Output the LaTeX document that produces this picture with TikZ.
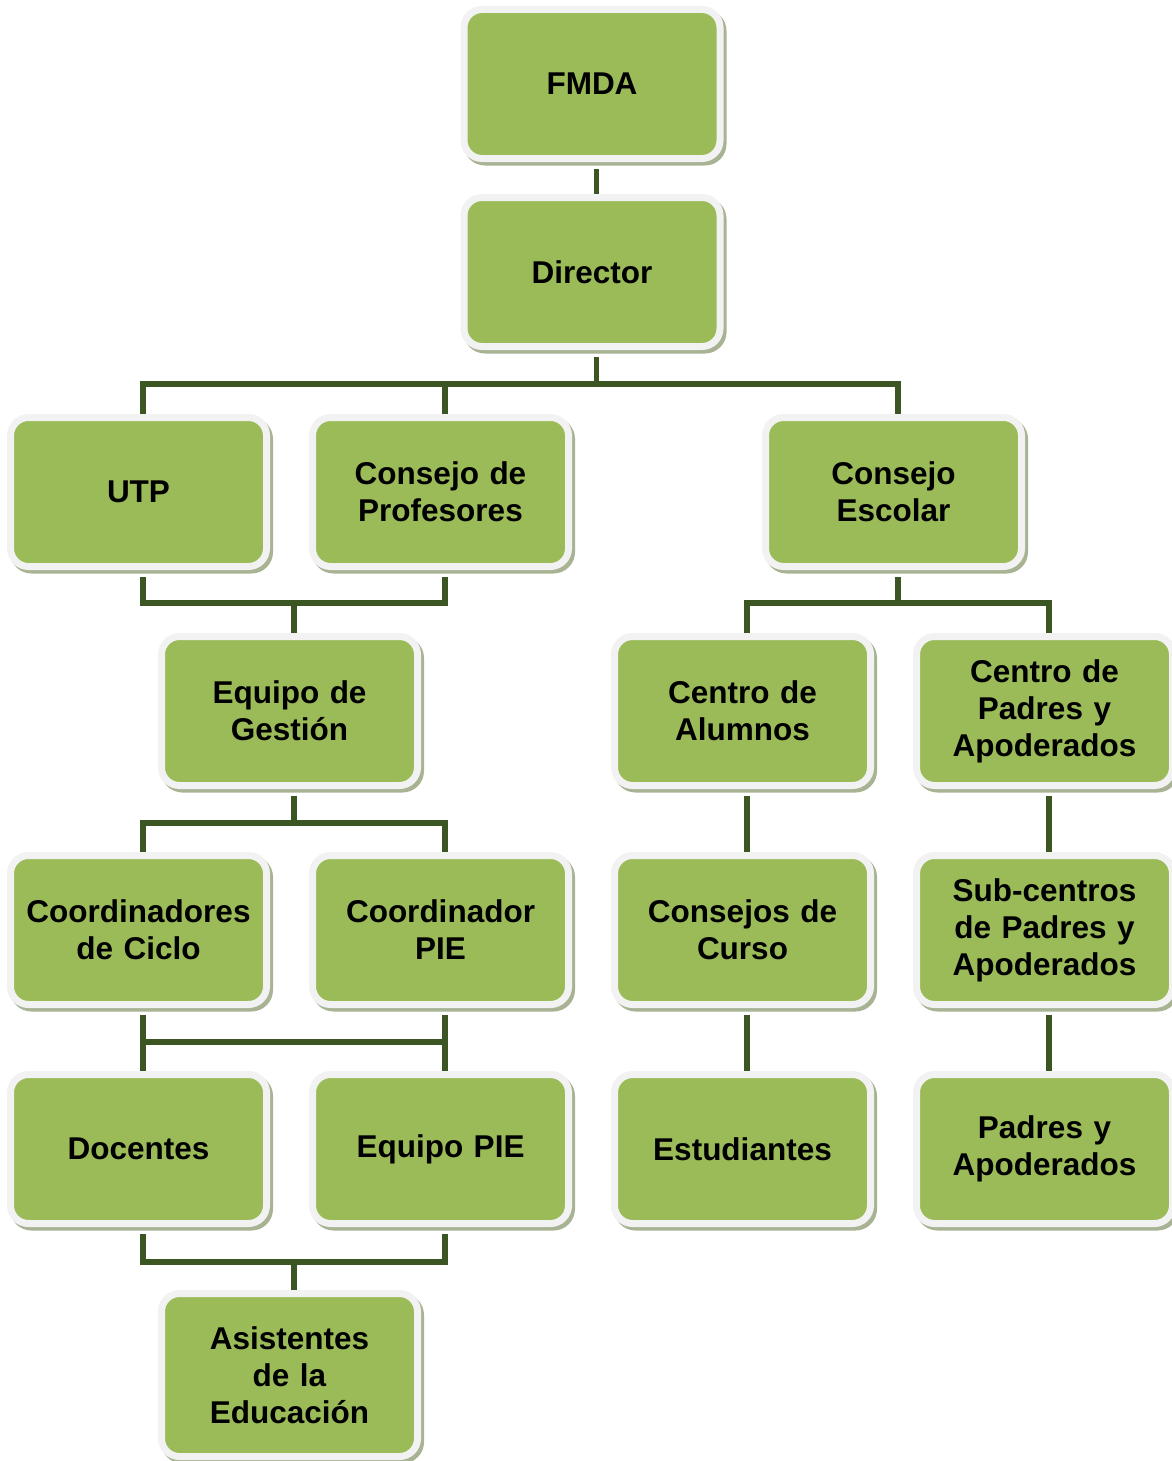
\documentclass[tikz,border=0pt]{standalone}
\usepackage{fontspec}
\setmainfont{Liberation Sans}
\definecolor{boxgreen}{HTML}{9BBB59}
\definecolor{boxrim}{HTML}{F2F2F2}
\definecolor{shadowc}{HTML}{A7B393}
\definecolor{connc}{HTML}{3B5623}
\begin{document}
\begin{tikzpicture}[x=1pt,y=-1pt,
  box/.style={rounded corners=18pt, fill=boxgreen, draw=boxrim, line width=7pt,
    minimum width=256pt, minimum height=149pt, inner sep=0pt, text width=250pt,
    align=center, font=\fontsize{31.5}{37}\selectfont\bfseries,
    preaction={fill=shadowc, draw=shadowc, line width=7pt,
      transform canvas={shift={(3pt,-3.5pt)}}}},
  conn/.style={draw=connc, line width=5.5pt},
  cx/.style={xshift=4.5pt}
]
\useasboundingbox (0,0) rectangle (1172,1461);

\node[box] (fmda) at (592,84) {FMDA};
\node[box] (dir) at (592,272) {Director};
\node[box] (utp) at (138.5,492) {UTP};
\node[box] (prof) at (440.5,492) {Consejo de\\Profesores};
\node[box] (esc) at (893.5,492) {Consejo\\Escolar};
\node[box] (gest) at (289.5,711) {Equipo de\\Gestión};
\node[box] (alum) at (742.5,711) {Centro de\\Alumnos};
\node[box] (padres) at (1044.5,711) {Centro de\\Padres y\\Apoderados};
\node[box] (coord) at (138.5,930) {Coordinadores\\de Ciclo};
\node[box] (cpie) at (440.5,930) {Coordinador\\PIE};
\node[box] (curso) at (742.5,930) {Consejos de\\Curso};
\node[box] (sub) at (1044.5,930) {Sub-centros\\de Padres y\\Apoderados};
\node[box] (doc) at (138.5,1149) {Docentes};
\node[box] (epie) at (440.5,1149) {Equipo PIE};
\node[box] (est) at (742.5,1149) {Estudiantes};
\node[box] (pya) at (1044.5,1149) {Padres y\\Apoderados};
\node[box, minimum height=163pt] (asis) at (289.5,1375) {Asistentes\\de la\\Educación};

\coordinate (b1) at (0,384);
\coordinate (b2) at (0,603);
\coordinate (b3) at (0,823);
\coordinate (b4) at (0,1042);
\coordinate (b5) at (0,1262);

\draw[conn] ([cx,yshift=-7pt]fmda.south) -- ([cx]dir.north);

\draw[conn] ([cx,yshift=-7pt]dir.south) -- ([cx]dir.south |- b1);
\draw[conn] ([cx]utp.north) |- ([cx]esc.north |- b1) -- ([cx]esc.north);
\draw[conn] ([cx]prof.north) -- ([cx]prof.north |- b1);

\draw[conn] ([cx,yshift=-7pt]utp.south) |- ([cx]prof.south |- b2) -- ([cx,yshift=-7pt]prof.south);
\draw[conn] ([cx]gest.north) -- ([cx]gest.north |- b2);

\draw[conn] ([cx,yshift=-7pt]esc.south) -- ([cx]esc.south |- b2);
\draw[conn] ([cx]alum.north) |- ([cx]padres.north |- b2) -- ([cx]padres.north);

\draw[conn] ([cx,yshift=-7pt]gest.south) -- ([cx]gest.south |- b3);
\draw[conn] ([cx]coord.north) |- ([cx]cpie.north |- b3) -- ([cx]cpie.north);

\draw[conn] ([cx,yshift=-7pt]coord.south) -- ([cx]doc.north);
\draw[conn] ([cx,yshift=-7pt]cpie.south) -- ([cx]epie.north);
\draw[conn] ([cx]coord.south |- b4) -- ([cx]cpie.south |- b4);

\draw[conn] ([cx,yshift=-7pt]alum.south) -- ([cx]curso.north);
\draw[conn] ([cx,yshift=-7pt]curso.south) -- ([cx]est.north);
\draw[conn] ([cx,yshift=-7pt]padres.south) -- ([cx]sub.north);
\draw[conn] ([cx,yshift=-7pt]sub.south) -- ([cx]pya.north);

\draw[conn] ([cx,yshift=-7pt]doc.south) |- ([cx]epie.south |- b5) -- ([cx,yshift=-7pt]epie.south);
\draw[conn] ([cx]asis.north) -- ([cx]asis.north |- b5);
\end{tikzpicture}
\end{document}
